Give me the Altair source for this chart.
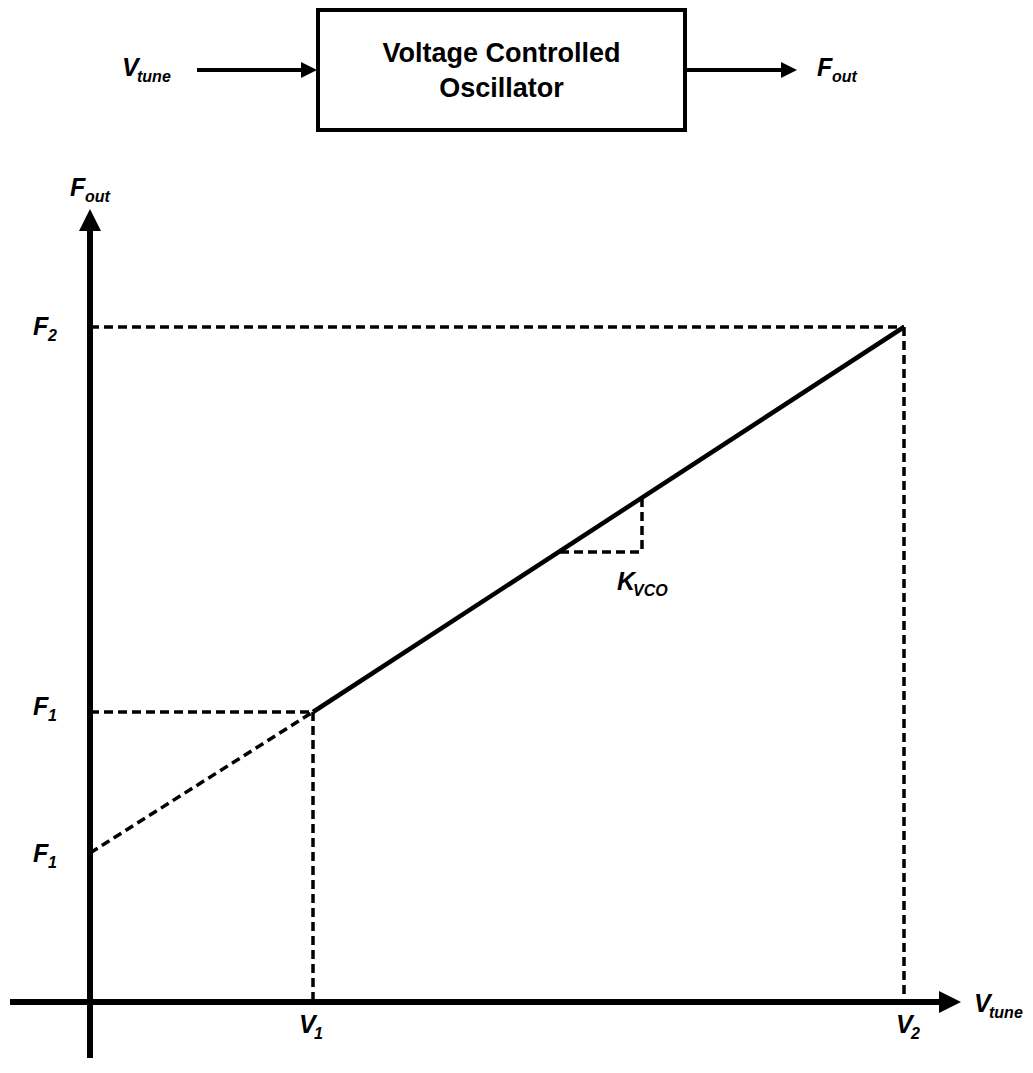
import altair as alt
import pandas as pd

# ---- diagram coordinates (origin = crossing of the V_tune and F_out axes) ----
V1, V2 = 223, 814          # tuning voltages
F0, F1, F2 = 149, 290, 675 # extrapolated start, F1, F2
K_X = [470, 552]           # KVCO slope triangle (x)
K_Y = [450, 504]           # KVCO slope triangle (y)

# axes extents
AX_X = [-80, 850]
AX_Y = [-56, 772]

# top block diagram
BOX_X = [228, 595]
BOX_Y = [872, 992]
ARROW_Y = 932
IN_ARROW_X = [107, 212]
OUT_ARROW_X = [597, 692]

# text labels: main letter, subscript, left x, baseline y
lab_main = ["V", "F", "F", "F", "F", "F", "V", "V", "V", "K"]
lab_sub = ["tune", "out", "out", "2", "1", "1", "1", "2", "tune", "VCO"]
lab_x = [32, 727, -20, -57, -57, -57, 209, 806, 884, 527]
lab_y = [926, 926, 806, 667, 287, 140, -31, -31, -10, 412]

block_text = ["Voltage Controlled", "Oscillator"]
block_text_y = [940, 905]

xscale = alt.Scale(domain=[-82, 935], nice=False, zero=False)
yscale = alt.Scale(domain=[-56, 994], nice=False, zero=False)


def X(f="x"):
    return alt.X(f"{f}:Q", scale=xscale, axis=None)


def Y(f="y"):
    return alt.Y(f"{f}:Q", scale=yscale, axis=None)


def segs(rows):
    return pd.DataFrame(rows, columns=["x", "y", "x2", "y2"])


axes = segs([[AX_X[0], 0, AX_X[1], 0], [0, AX_Y[0], 0, AX_Y[1]]])
axes_layer = alt.Chart(axes).mark_rule(strokeWidth=6, color="black", strokeCap="butt").encode(
    x=X(), y=Y(), x2="x2", y2="y2")

heads_r = pd.DataFrame({"x": [AX_X[1] + 10, IN_ARROW_X[1] + 7, OUT_ARROW_X[1] + 7],
                        "y": [0, ARROW_Y, ARROW_Y],
                        "s": [22 * 22, 16 * 16, 16 * 16]})
heads_r_layer = alt.Chart(heads_r).mark_point(
    shape="M1,0L-1,-1L-1,1Z", filled=True, color="black", opacity=1, strokeWidth=0).encode(
    x=X(), y=Y(), size=alt.Size("s:Q", scale=None, legend=None))

heads_u = pd.DataFrame({"x": [0], "y": [AX_Y[1] + 10], "s": [22 * 22]})
heads_u_layer = alt.Chart(heads_u).mark_point(
    shape="M0,-1L-1,1L1,1Z", filled=True, color="black", opacity=1, strokeWidth=0).encode(
    x=X(), y=Y(), size=alt.Size("s:Q", scale=None, legend=None))

main_line = segs([[V1, F1, V2, F2]])
main_layer = alt.Chart(main_line).mark_rule(strokeWidth=4.5, color="black").encode(
    x=X(), y=Y(), x2="x2", y2="y2")

dashed = segs([
    [0, F2, V2, F2],
    [V2, F2, V2, 0],
    [0, F1, V1, F1],
    [V1, F1, V1, 0],
    [0, F0, V1, F1],
    [K_X[1], K_Y[1], K_X[1], K_Y[0]],
    [K_X[0], K_Y[0], K_X[1], K_Y[0]],
])
dashed_layer = alt.Chart(dashed).mark_rule(strokeWidth=3.5, color="black", strokeDash=[9, 5]).encode(
    x=X(), y=Y(), x2="x2", y2="y2")

box = segs([[BOX_X[0], BOX_Y[0], BOX_X[1], BOX_Y[1]]])
box_layer = alt.Chart(box).mark_rect(fill="white", stroke="black", strokeWidth=4).encode(
    x=X(), y=Y(), x2="x2", y2="y2")

arrows = segs([[IN_ARROW_X[0], ARROW_Y, IN_ARROW_X[1], ARROW_Y],
               [OUT_ARROW_X[0], ARROW_Y, OUT_ARROW_X[1], ARROW_Y]])
arrows_layer = alt.Chart(arrows).mark_rule(strokeWidth=4, color="black").encode(
    x=X(), y=Y(), x2="x2", y2="y2")

block_df = pd.DataFrame({"t": block_text, "x": [(BOX_X[0] + BOX_X[1]) / 2] * 2, "y": block_text_y})
block_layer = alt.Chart(block_df).mark_text(
    font="Liberation Sans", fontWeight="bold", fontSize=27, align="center",
    baseline="alphabetic", color="black").encode(x=X(), y=Y(), text="t:N")

labels = pd.DataFrame({"m": lab_main, "s": lab_sub, "x": lab_x, "y": lab_y})
labels["xs"] = labels["x"] + labels["m"].map({"V": 15, "F": 15, "K": 16})
labels["ys"] = labels["y"] - 6
main_txt = alt.Chart(labels).mark_text(
    font="Liberation Sans", fontWeight="bold", fontStyle="italic", fontSize=25,
    align="left", baseline="alphabetic", color="black").encode(x=X(), y=Y(), text="m:N")
sub_txt = alt.Chart(labels).mark_text(
    font="Liberation Sans", fontWeight="bold", fontStyle="italic", fontSize=16,
    align="left", baseline="alphabetic", color="black").encode(x=X("xs"), y=Y("ys"), text="s:N")

chart = alt.layer(
    dashed_layer, main_layer, axes_layer, heads_r_layer, heads_u_layer,
    box_layer, arrows_layer, block_layer, main_txt, sub_txt
).properties(
    width=1017, height=1050, autosize=alt.AutoSizeParams(type="none"), padding=0
).configure_view(stroke=None)

chart.save("out.html", embed_options={"renderer": "svg", "actions": False})
